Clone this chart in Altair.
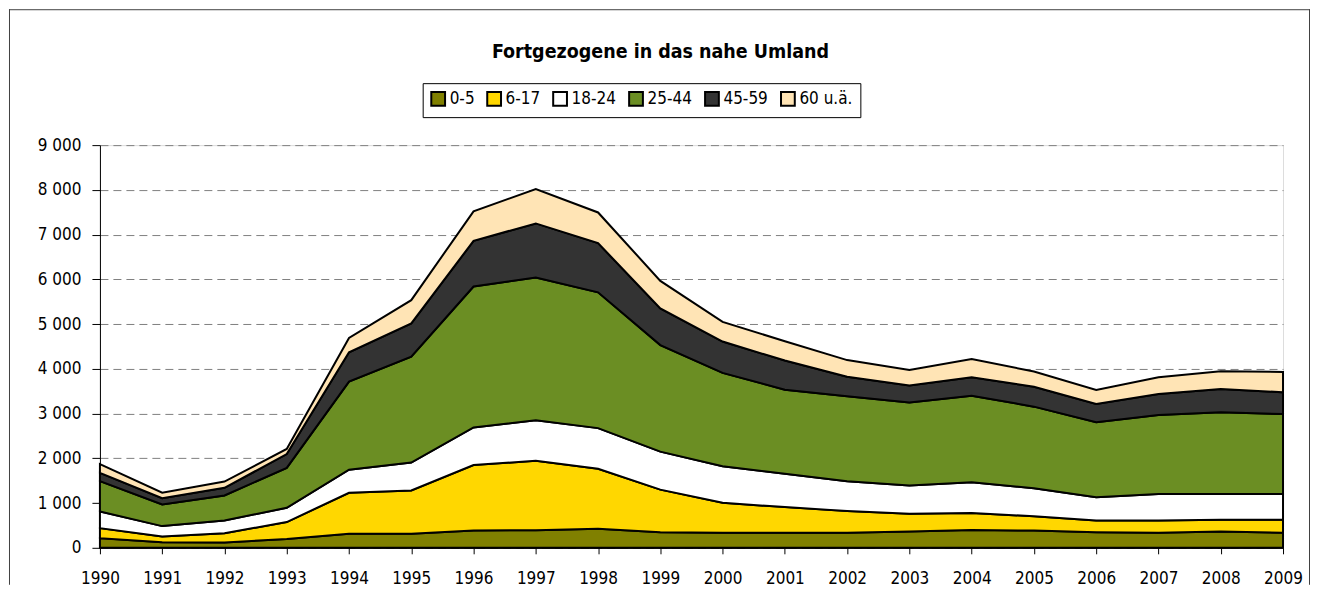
import altair as alt
import pandas as pd

years = list(range(1990, 2010))
groups = ["0-5", "6-17", "18-24", "25-44", "45-59", "60 u.ä."]
colors = ["#808000", "#FFD700", "#FFFFFF", "#6B8E23", "#333333", "#FFE4B5"]
title_text = "Fortgezogene in das nahe Umland"

a0_5 = [215, 125, 120, 195, 315, 315, 385, 395, 425, 350, 335, 335, 335, 365, 400, 385, 350, 335, 365, 335]
a6_17 = [225, 130, 205, 380, 915, 965, 1465, 1550, 1340, 950, 670, 575, 485, 395, 380, 320, 260, 275, 260, 290]
a18_24 = [370, 230, 285, 320, 515, 625, 840, 905, 910, 850, 820, 745, 670, 630, 685, 625, 520, 595, 580, 580]
a25_44 = [680, 485, 560, 890, 1970, 2365, 3150, 3190, 3035, 2380, 2085, 1880, 1895, 1860, 1935, 1825, 1675, 1765, 1825, 1785]
a45_59 = [185, 140, 170, 310, 655, 745, 1020, 1210, 1100, 820, 700, 650, 440, 375, 410, 445, 410, 470, 520, 485]
a60 = [195, 120, 140, 115, 320, 520, 660, 770, 685, 615, 440, 430, 370, 350, 410, 340, 315, 370, 395, 455]

series = [a0_5, a6_17, a18_24, a25_44, a45_59, a60]
rows = []
for gi, (g, vals) in enumerate(zip(groups, series)):
    for y, v in zip(years, vals):
        rows.append({"Jahr": y, "Gruppe": g, "idx": gi, "Wert": v})
df = pd.DataFrame(rows)

FONT = "Liberation Sans Narrow, Arial Narrow, DejaVu Sans Condensed, sans-serif"
W, H = 1184, 403

areas = alt.Chart(df).mark_area(
    stroke="black", strokeWidth=2, opacity=1, strokeJoin="miter"
).encode(
    x=alt.X("Jahr:Q", scale=alt.Scale(domain=[1990, 2009], nice=False, zero=False),
            axis=alt.Axis(values=years, format="d", title=None, grid=False,
                          tickSize=6, tickColor="black", domainColor="black",
                          labelFont=FONT, labelFontSize=17, labelColor="black",
                          labelPadding=17, labelOverlap=False, labelFlush=False,
                          labelBound=False)),
    y=alt.Y("Wert:Q", stack="zero", scale=alt.Scale(domain=[0, 9000], nice=False),
            axis=alt.Axis(values=list(range(0, 9001, 1000)), title=None,
                          labelExpr="replace(format(datum.value, ',d'), ',', ' ')",
                          grid=True, gridDash=[8, 5], gridColor="#808080", gridWidth=1,
                          tickSize=8, tickColor="black", domainColor="black",
                          labelFont=FONT, labelFontSize=17, labelColor="black",
                          labelPadding=11)),
    color=alt.Color("Gruppe:N", scale=alt.Scale(domain=groups, range=colors),
                    legend=alt.Legend(title=None, orient="none", legendX=323, legendY=-62,
                                      direction="horizontal", symbolType="square",
                                      symbolSize=190, symbolStrokeColor="black",
                                      symbolStrokeWidth=2, symbolOpacity=1,
                                      labelFont=FONT, labelFontSize=17, labelColor="black",
                                      labelOffset=3, columnPadding=8, padding=7,
                                      strokeColor="black", fillColor="white")),
    order=alt.Order("idx:Q", sort="ascending"),
)

one = alt.Data(values=[{"a": 1}])
title_mark = alt.Chart(one).mark_text(
    font=FONT, fontSize=19.5, fontWeight="bold", color="black",
    align="center", baseline="alphabetic"
).encode(x=alt.value(561), y=alt.value(-87), text=alt.value(title_text))

frame_left = alt.Chart(one).mark_rule(color="#404040", strokeWidth=1).encode(
    x=alt.value(-90.5), y=alt.value(-136), y2=alt.value(440))
frame_top = alt.Chart(one).mark_rule(color="#404040", strokeWidth=1).encode(
    x=alt.value(-91), x2=alt.value(1211), y=alt.value(-135.5))
frame_right = alt.Chart(one).mark_rule(color="#404040", strokeWidth=1).encode(
    x=alt.value(1210.5), y=alt.value(-136), y2=alt.value(440))

chart = alt.layer(areas, title_mark, frame_left, frame_top, frame_right).properties(
    width=W, height=H, padding=0,
).configure_view(stroke="#808080", strokeWidth=1).configure(background="white")

chart.save("out.html", embed_options={"renderer": "svg", "actions": False})
